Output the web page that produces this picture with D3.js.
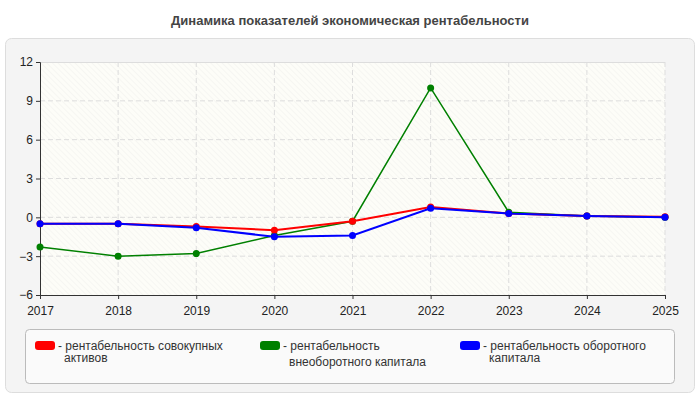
<!DOCTYPE html><html><head><meta charset="utf-8"><script src="https://d3js.org/d3.v7.min.js"></script>
<style>body{margin:0;background:#fff;font-family:"Liberation Sans",Arial,sans-serif}</style></head><body><svg width="700" height="400"></svg>
<script>
const years=["2017","2018","2019","2020","2021","2022","2023","2024","2025"];
const yTicks=[-6,-3,0,3,6,9,12];
const seriesNames=["рентабельность совокупных активов","рентабельность внеоборотного капитала","рентабельность оборотного капитала"];
const red=[-0.5,-0.5,-0.7,-1.0,-0.3,0.8,0.3,0.1,0.05];
const green=[-2.3,-3.0,-2.8,-1.4,-0.3,10.0,0.4,0.1,0.0];
const blue=[-0.5,-0.5,-0.8,-1.5,-1.4,0.7,0.3,0.1,0.0];
const colors=["#ff0000","#008000","#0000ff"];
const F="'Liberation Sans',Arial,sans-serif";
const svg=d3.select("svg").attr("font-family",F);
svg.append("text").attr("x",350).attr("y",25).attr("text-anchor","middle").attr("font-size",13).attr("font-weight","bold").attr("fill","#444").text("Динамика показателей экономическая рентабельности");
svg.append("rect").attr("x",5.5).attr("y",38.5).attr("width",689).attr("height",354).attr("rx",6).attr("fill","#f4f4f4").attr("stroke","#ddd");
const defs=svg.append("defs");
const p=defs.append("pattern").attr("id","h").attr("width",4).attr("height",4).attr("patternUnits","userSpaceOnUse").attr("patternTransform","rotate(-45)");
p.append("rect").attr("width",4).attr("height",4).attr("fill","#fdfdf8");
p.append("line").attr("x1",0).attr("y1",0).attr("x2",0).attr("y2",4).attr("stroke","#f0f0ec").attr("stroke-width",1);
const x=d3.scalePoint().domain(years).range([40,665]);
const y=d3.scaleLinear().domain([-6,12]).range([295,62]);
svg.append("rect").attr("x",40).attr("y",62).attr("width",625).attr("height",233).attr("fill","url(#h)");
const g=svg.append("g");
g.selectAll(".gy").data(yTicks.slice(1,-1)).join("line").attr("x1",40).attr("x2",665).attr("y1",d=>y(d)).attr("y2",d=>y(d)).attr("stroke","#ddd").attr("stroke-dasharray","5,3");
g.selectAll(".gx").data(years.slice(1)).join("line").attr("x1",d=>x(d)).attr("x2",d=>x(d)).attr("y1",62).attr("y2",295).attr("stroke","#ddd").attr("stroke-dasharray","5,3");
svg.append("line").attr("x1",40).attr("x2",665).attr("y1",62.5).attr("y2",62.5).attr("stroke","#ddd");
const ya=svg.append("g").attr("transform","translate(40,0)").call(d3.axisLeft(y).tickValues(yTicks).tickSize(4));
const xa=svg.append("g").attr("transform","translate(0,295)").call(d3.axisBottom(x).tickSize(4));
[ya,xa].forEach(a=>{a.selectAll("text").attr("font-size",12).attr("fill","#222").attr("font-family",F);a.selectAll("path,line").attr("stroke","#333");});
xa.selectAll("text").attr("dy","1.1em");
const line=d3.line().x((d,i)=>x(years[i])).y(d=>y(d));
[green,red,blue].forEach((s,k)=>{const c=[colors[1],colors[0],colors[2]][k];
svg.append("path").datum(s).attr("d",line).attr("fill","none").attr("stroke",c).attr("stroke-width",k==0?1.5:2);
svg.selectAll(null).data(s).join("circle").attr("cx",(d,i)=>x(years[i])).attr("cy",d=>y(d)).attr("r",3.5).attr("fill",c);});
svg.append("rect").attr("x",25.5).attr("y",329.5).attr("width",649).attr("height",54).attr("rx",4).attr("fill","#fafafa").attr("stroke","#bbb");
const lx=[35,260,460];
const lines=[["- рентабельность совокупных","активов"],["- рентабельность","внеоборотного капитала"],["- рентабельность оборотного","капитала"]];
lx.forEach((xx,i)=>{svg.append("rect").attr("x",xx).attr("y",341).attr("width",20).attr("height",9).attr("rx",3).attr("fill",colors[i]);
const t=svg.append("text").attr("x",xx+23).attr("y",350).attr("font-size",12).attr("fill","#333");
lines[i].forEach((l,j)=>t.append("tspan").attr("x",xx+(j?29:23)).attr("dy",j?(i==1?16:12):0).text(l));});
</script></body></html>
